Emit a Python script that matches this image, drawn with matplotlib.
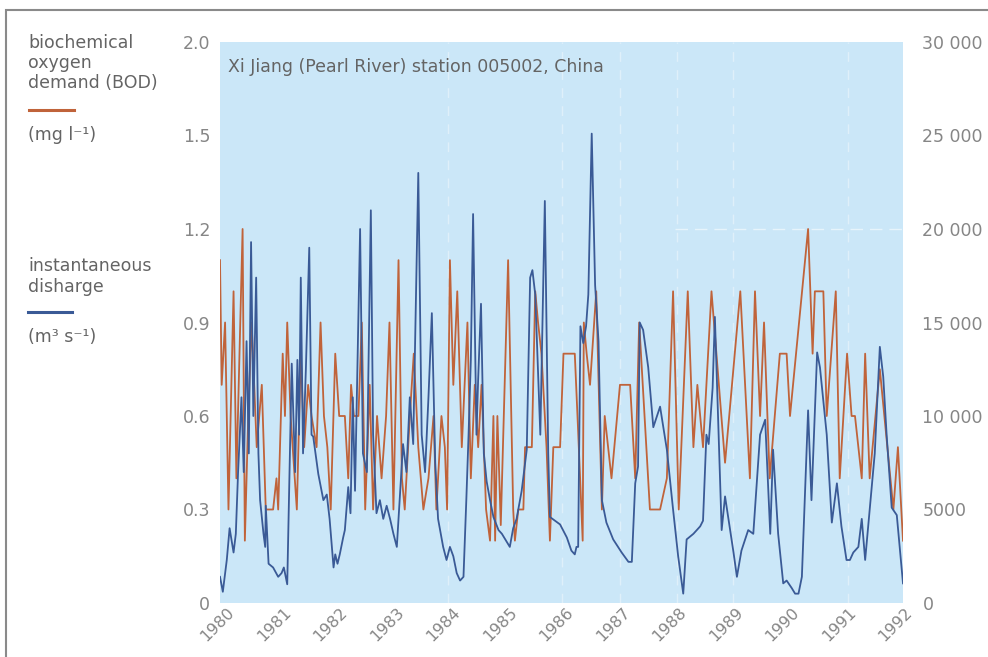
import numpy as np
import matplotlib
matplotlib.use('Agg')
import matplotlib.pyplot as plt
from matplotlib.lines import Line2D
from matplotlib.patches import Rectangle
from matplotlib.transforms import ScaledTranslation

plt.rcParams['font.family'] = ['DejaVu Sans']

# BOD samples (mg/l), sampling date as decimal year
bod_years = [
    1980.00, 1980.03, 1980.09, 1980.15, 1980.24, 1980.29, 1980.40, 1980.44, 1980.50, 1980.56, 1980.65, 1980.74, 1980.81, 1980.87, 1980.94,
    1981.00, 1981.03, 1981.11, 1981.15, 1981.19, 1981.25, 1981.36, 1981.43, 1981.49, 1981.56, 1981.62, 1981.71, 1981.78, 1981.84, 1981.90, 1981.96,
    1982.04, 1982.11, 1982.21, 1982.27, 1982.32, 1982.37, 1982.45, 1982.51, 1982.57, 1982.65, 1982.71, 1982.78, 1982.86, 1982.94,
    1983.00, 1983.07, 1983.16, 1983.22, 1983.27, 1983.36, 1983.43, 1983.51, 1983.60, 1983.69, 1983.78, 1983.83, 1983.92, 1983.98,
    1984.02, 1984.07, 1984.13, 1984.20, 1984.28, 1984.38, 1984.44, 1984.51, 1984.57, 1984.63, 1984.71, 1984.78, 1984.84, 1984.87, 1984.91, 1984.97,
    1985.10, 1985.19, 1985.22, 1985.28, 1985.37, 1985.40, 1985.52, 1985.58, 1985.63, 1985.69, 1985.78, 1985.84, 1985.90,
    1986.02, 1986.08, 1986.28, 1986.34, 1986.42, 1986.44, 1986.49, 1986.55, 1986.66, 1986.76, 1986.81, 1986.93,
    1987.08, 1987.26, 1987.35, 1987.42, 1987.61, 1987.79, 1987.91,
    1988.02, 1988.12, 1988.28, 1988.38, 1988.45, 1988.55, 1988.70, 1988.94,
    1989.21, 1989.38, 1989.47, 1989.56, 1989.63, 1989.73, 1989.91,
    1990.03, 1990.09, 1990.41, 1990.49, 1990.53, 1990.68, 1990.74, 1990.90, 1990.97,
    1991.10, 1991.18, 1991.24, 1991.36, 1991.42, 1991.50, 1991.68, 1991.92, 1992.00, 1992.09,
]
bod_values = [
    1.1, 0.7, 0.9, 0.3, 1.0, 0.4, 1.2, 0.2, 0.6, 0.9, 0.5, 0.7, 0.3, 0.3, 0.3,
    0.4, 0.3, 0.8, 0.6, 0.9, 0.6, 0.3, 0.8, 0.5, 0.7, 0.6, 0.5, 0.9, 0.6, 0.5, 0.3,
    0.8, 0.6, 0.6, 0.4, 0.7, 0.6, 0.6, 0.9, 0.3, 0.7, 0.3, 0.6, 0.4, 0.6,
    0.9, 0.3, 1.1, 0.4, 0.3, 0.6, 0.8, 0.5, 0.3, 0.4, 0.6, 0.3, 0.6, 0.5,
    0.3, 1.1, 0.7, 1.0, 0.5, 0.9, 0.4, 0.7, 0.5, 0.7, 0.3, 0.2, 0.6, 0.2, 0.6, 0.25,
    1.1, 0.3, 0.2, 0.3, 0.3, 0.5, 0.5, 1.0, 0.9, 0.8, 0.5, 0.2, 0.5,
    0.5, 0.8, 0.8, 0.55, 0.2, 0.9, 0.8, 0.7, 1.0, 0.3, 0.6, 0.4,
    0.7, 0.7, 0.4, 0.9, 0.3, 0.3, 0.4,
    1.0, 0.3, 1.0, 0.5, 0.7, 0.5, 1.0, 0.45,
    1.0, 0.4, 1.0, 0.6, 0.9, 0.4, 0.8,
    0.8, 0.6, 1.2, 0.8, 1.0, 1.0, 0.6, 1.0, 0.4,
    0.8, 0.6, 0.6, 0.4, 0.8, 0.4, 0.75, 0.3, 0.5, 0.2,
]

# instantaneous discharge (m3/s)
flow_years = [
    1980.00, 1980.05, 1980.12, 1980.17, 1980.24, 1980.28, 1980.32, 1980.38, 1980.42, 1980.47, 1980.51, 1980.55, 1980.59, 1980.64, 1980.68, 1980.71, 1980.77, 1980.80, 1980.81, 1980.86, 1980.94,
    1981.03, 1981.09, 1981.13, 1981.19, 1981.27, 1981.33, 1981.37, 1981.40, 1981.43, 1981.47, 1981.52, 1981.58, 1981.62, 1981.65, 1981.74, 1981.83, 1981.89, 1981.94,
    1982.01, 1982.04, 1982.08, 1982.12, 1982.18, 1982.21, 1982.27, 1982.31, 1982.35, 1982.39, 1982.48, 1982.53, 1982.60, 1982.67, 1982.71, 1982.77, 1982.83, 1982.89, 1982.95,
    1983.01, 1983.07, 1983.13, 1983.19, 1983.24, 1983.30, 1983.36, 1983.42, 1983.51, 1983.57, 1983.63, 1983.69, 1983.75, 1983.81, 1983.86, 1983.95,
    1984.01, 1984.07, 1984.13, 1984.19, 1984.25, 1984.31, 1984.36, 1984.40, 1984.44, 1984.48, 1984.54, 1984.57, 1984.62, 1984.67, 1984.72, 1984.78, 1984.84, 1984.93, 1984.99,
    1985.07, 1985.13, 1985.19, 1985.25, 1985.34, 1985.43, 1985.49, 1985.53, 1985.58, 1985.67, 1985.75, 1985.81, 1985.84, 1985.93,
    1986.02, 1986.14, 1986.22, 1986.28, 1986.31, 1986.34, 1986.38, 1986.43, 1986.48, 1986.52, 1986.58, 1986.64, 1986.70, 1986.76, 1986.84, 1986.96,
    1987.11, 1987.23, 1987.29, 1987.35, 1987.40, 1987.43, 1987.49, 1987.58, 1987.67, 1987.79, 1987.91,
    1988.02, 1988.11, 1988.20, 1988.26, 1988.38, 1988.50, 1988.55, 1988.61, 1988.65, 1988.72, 1988.76, 1988.88, 1988.94,
    1989.09, 1989.15, 1989.23, 1989.35, 1989.44, 1989.56, 1989.65, 1989.74, 1989.79, 1989.88, 1989.97,
    1990.03, 1990.12, 1990.18, 1990.24, 1990.30, 1990.41, 1990.47, 1990.57, 1990.62, 1990.74, 1990.83, 1990.92,
    1991.00, 1991.09, 1991.15, 1991.21, 1991.30, 1991.36, 1991.42, 1991.59, 1991.68, 1991.74, 1991.80, 1991.89, 1991.98, 1992.09,
]
flow_values = [
    1400, 600, 2300, 4000, 2700, 3700, 7000, 11000, 7000, 14000, 8000, 19300, 10000, 17400, 8000, 5500, 3700, 3000, 5200, 2100, 1900,
    1400, 1600, 1900, 1000, 12800, 7000, 13000, 9000, 17400, 8000, 12500, 19000, 9000, 8900, 6900, 5500, 5800, 4500,
    1900, 2600, 2100, 2600, 3500, 3900, 6200, 4800, 11000, 6000, 20000, 8000, 7000, 21000, 9000, 4800, 5500, 4500, 5200,
    4500, 3700, 3000, 6000, 8500, 7000, 11000, 8500, 23000, 9000, 7000, 11000, 15500, 7500, 4500, 3000,
    2300, 3000, 2500, 1600, 1200, 1400, 5500, 9000, 13000, 20800, 9000, 12000, 16000, 8000, 6500, 5500, 4600, 3900, 3700,
    3300, 3000, 4000, 4500, 6000, 8200, 17400, 17800, 16500, 9000, 21500, 8000, 4600, 4400,
    4200, 3500, 2800, 2600, 3000, 3000, 14800, 13900, 14800, 16500, 25100, 17000, 14000, 5500, 4300, 3400,
    2700, 2200, 2200, 6400, 7300, 15000, 14600, 12600, 9400, 10500, 8200,
    5000, 2500, 500, 3400, 3700, 4100, 4400, 9000, 8500, 11500, 15300, 3900, 5700,
    2700, 1400, 2800, 3900, 3700, 9000, 9800, 3700, 8200, 3700, 1050,
    1200, 800, 500, 500, 1400, 10300, 5500, 13400, 12600, 9000, 4300, 6400,
    4100, 2300, 2300, 2700, 3000, 4500, 2300, 8000, 13700, 12100, 9000, 5100, 4700, 1050,
]

year_ticks = list(range(1980, 1993))
bod_ticks = [0, 0.3, 0.6, 0.9, 1.2, 1.5, 1.8]
bod_tick_labels = ['0', '0.3', '0.6', '0.9', '1.2', '1.5', '2.0']
flow_ticks = [0, 5000, 10000, 15000, 20000, 25000, 30000]
flow_tick_labels = ['0', '5000', '10 000', '15 000', '20 000', '25 000', '30 000']

# faint white fold lines across the panel
fold_years = [1984.04, 1986.05, 1987.08, 1988.09, 1989.08, 1991.11]

BOD_COLOR = '#c0633a'
FLOW_COLOR = '#3a5a96'
PANEL_COLOR = '#cbe7f8'
TEXT_COLOR = '#646464'
TICK_COLOR = '#868686'
FS = 12.5

fig = plt.figure(figsize=(9.88, 6.57), dpi=100)
W, H = 988.0, 657.0
ax = fig.add_axes([220 / W, 54 / H, 683 / W, 561 / H])
ax.set_facecolor(PANEL_COLOR)
for s in ax.spines.values():
    s.set_visible(False)

for fy in fold_years:
    ax.axvline(fy, color='white', lw=1.0, ls=(0, (7, 6)), alpha=0.4, zorder=1)
ax.plot([1988.05, 1992.09], [1.2, 1.2], color='white', lw=1.0, ls=(0, (9, 5)), alpha=0.55, zorder=1)

ax.plot(bod_years, bod_values, color=BOD_COLOR, lw=1.3, zorder=3)
ax.set_xlim(1980, 1992.09)
ax.set_ylim(0, 1.8)

ax2 = ax.twinx()
for s in ax2.spines.values():
    s.set_visible(False)
ax2.plot(flow_years, flow_values, color=FLOW_COLOR, lw=1.3)
ax2.set_ylim(0, 30000)

ax.set_yticks(bod_ticks)
ax.set_yticklabels(bod_tick_labels)
ax.tick_params(axis='y', length=0, pad=7, labelsize=FS, labelcolor=TICK_COLOR)
ax2.set_yticks(flow_ticks)
ax2.set_yticklabels(flow_tick_labels)
ax2.tick_params(axis='y', length=0, pad=14, labelsize=FS, labelcolor=TICK_COLOR)

ax.set_xticks(year_ticks)
ax.set_xticklabels([str(y) for y in year_ticks], rotation=45, rotation_mode='anchor',
                   ha='right', va='center')
ax.tick_params(axis='x', length=0, pad=5, labelsize=11.5, labelcolor=TICK_COLOR)
shift = ScaledTranslation(0.12, 0, fig.dpi_scale_trans)
for lab in ax.get_xticklabels():
    lab.set_transform(lab.get_transform() + shift)

ax.text(0.012, 0.955, 'Xi Jiang (Pearl River) station 005002, China', transform=ax.transAxes,
        ha='left', va='center', fontsize=FS, color=TEXT_COLOR)

# legend block on the left
def side_text(y, s):
    fig.text(28 / W, 1 - y / H, s, ha='left', va='center', fontsize=FS, color=TEXT_COLOR)

side_text(43, 'biochemical')
side_text(63, 'oxygen')
side_text(83, 'demand (BOD)')
fig.add_artist(Line2D([29 / W, 74 / W], [1 - 110 / H] * 2, color=BOD_COLOR, lw=2.2,
                      transform=fig.transFigure))
side_text(135, '(mg l\u207b\u00b9)')
side_text(266, 'instantaneous')
side_text(287, 'disharge')
fig.add_artist(Line2D([28 / W, 72 / W], [1 - 312 / H] * 2, color=FLOW_COLOR, lw=2.2,
                      transform=fig.transFigure))
side_text(337, '(m\u00b3 s\u207b\u00b9)')

# outer frame
fig.add_artist(Rectangle((6 / W, -0.05), 1.2, 1 - 10 / H + 0.05, transform=fig.transFigure,
                         fill=False, ec='#8a8a8a', lw=1.5))

fig.savefig('out.png', dpi=100)
